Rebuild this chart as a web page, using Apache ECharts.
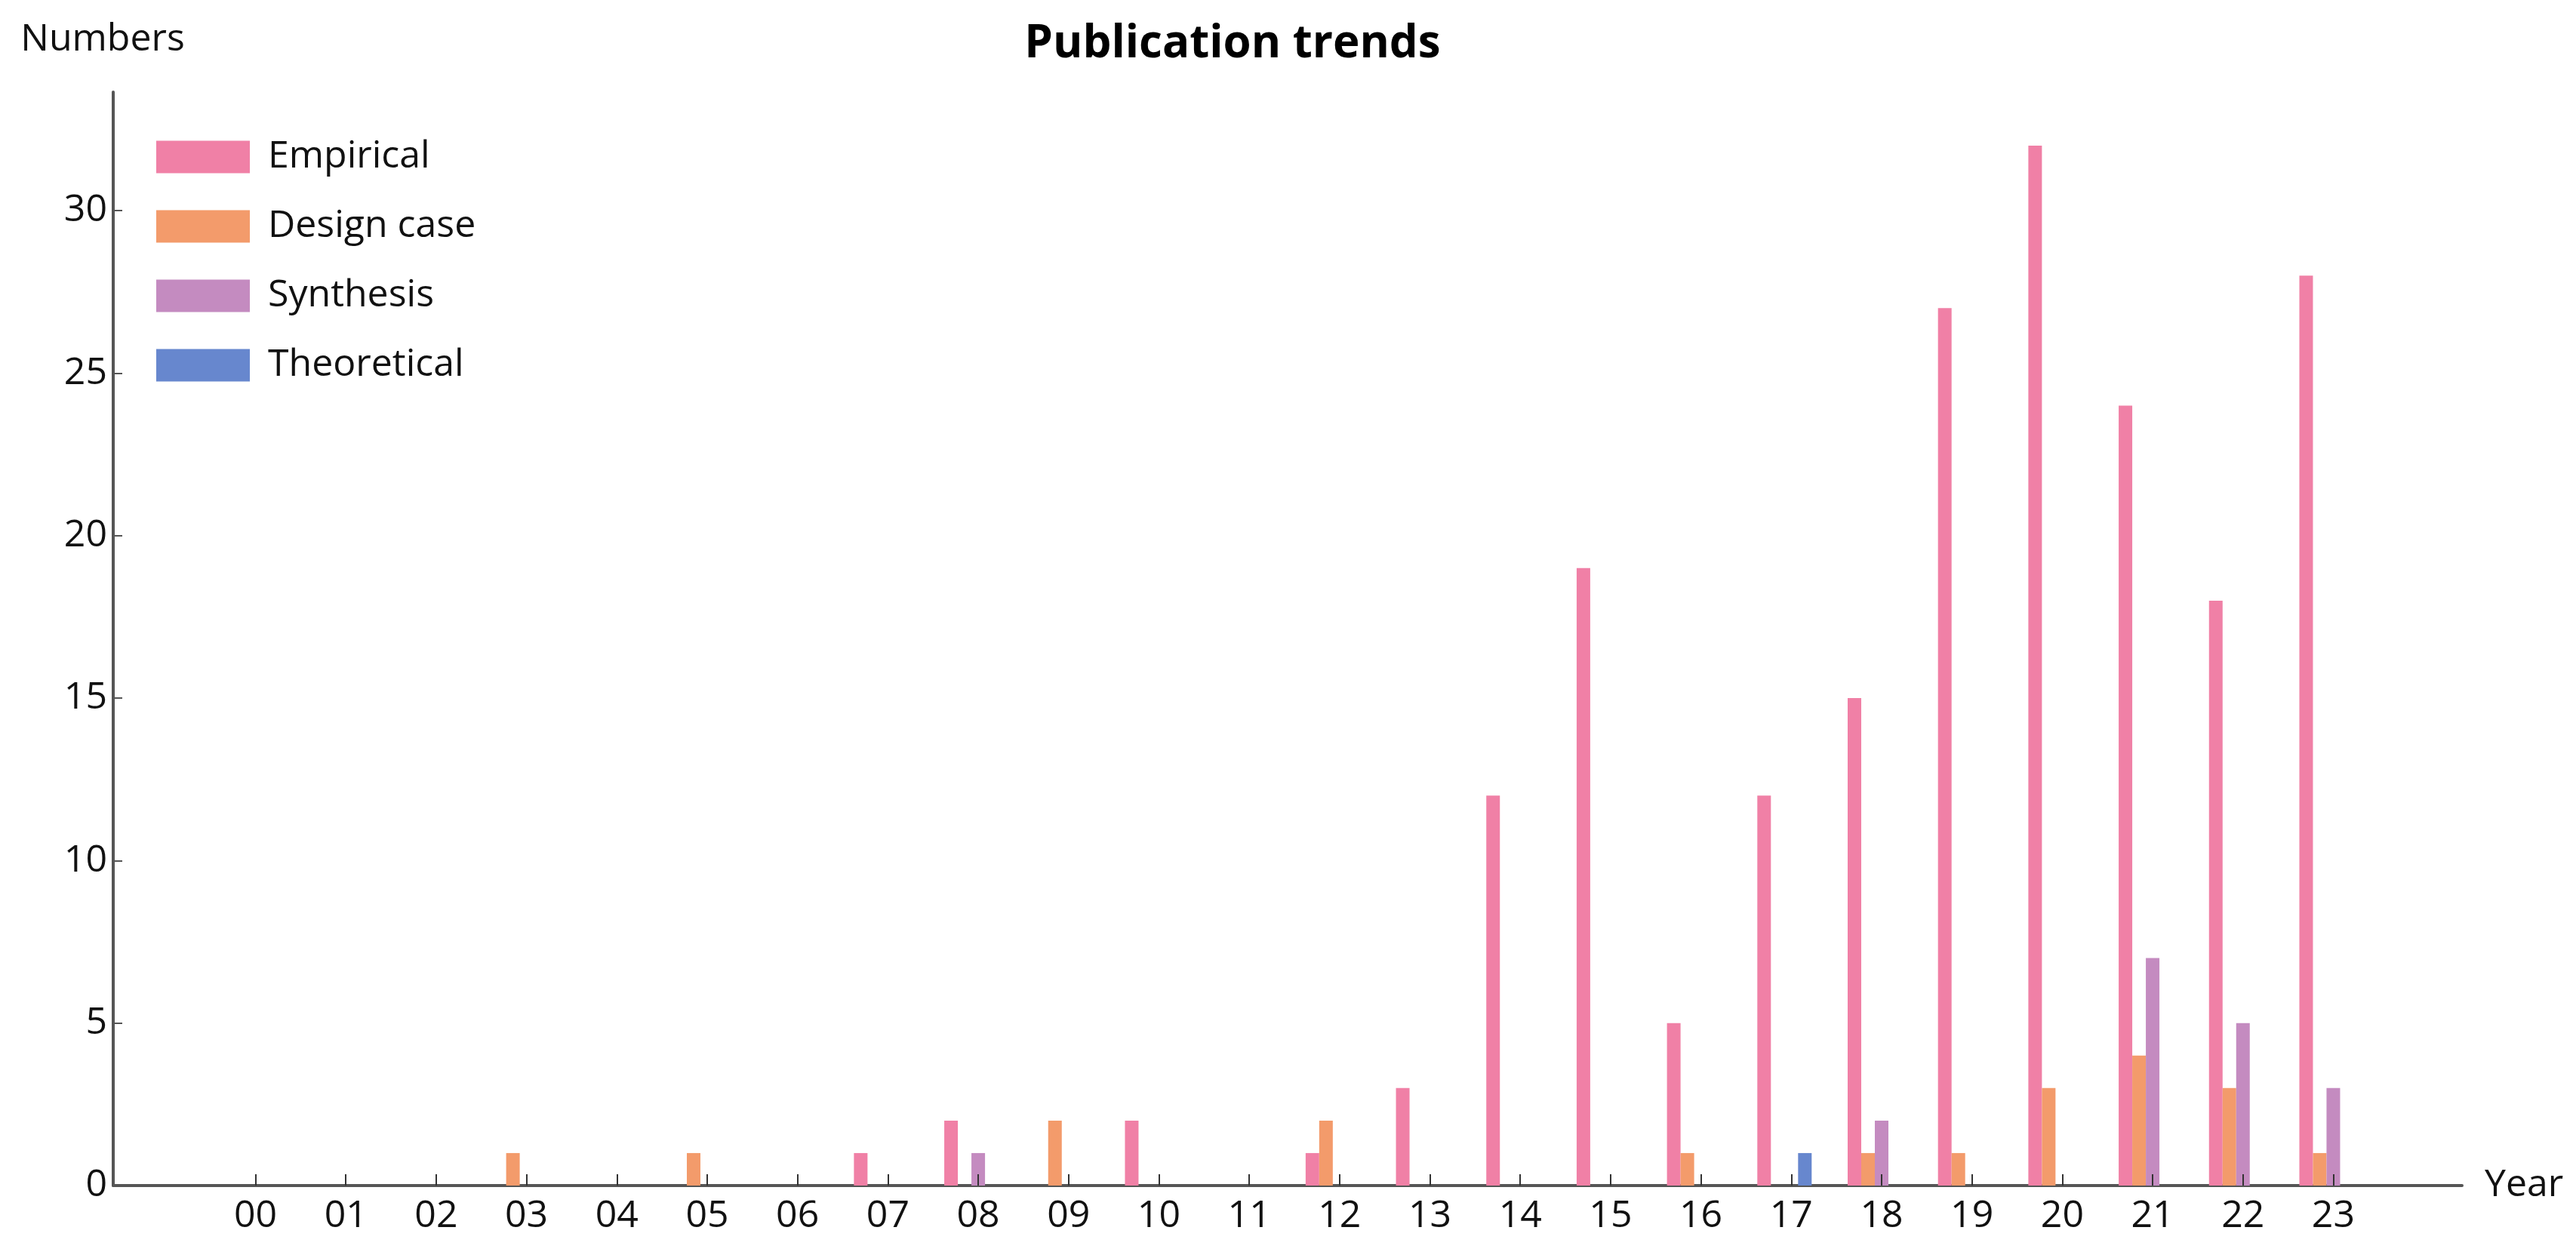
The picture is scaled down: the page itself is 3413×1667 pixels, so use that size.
<!DOCTYPE html>
<html>
<head>
<meta charset="utf-8">
<script src="https://cdn.jsdelivr.net/npm/echarts@6/dist/echarts.min.js"></script>
<style>
html,body{margin:0;padding:0;background:#fff;}
#chart{width:3413px;height:1667px;}
</style>
</head>
<body>
<div id="chart"></div>
<script>
// Year categories (padded with an empty slot on each side, as in the reference axis range)
const years = ['', '00','01','02','03','04','05','06','07','08','09','10','11','12','13','14','15','16','17','18','19','20','21','22','23', ''];
const empirical   = [null, 0,0,0,0,0,0,0,1,2,0,2,0,1,3,12,19,5,12,15,27,32,24,18,28, null];
const designCase  = [null, 0,0,0,1,0,1,0,0,0,2,0,0,2,0,0,0,1,0,1,1,3,4,3,1, null];
const synthesis   = [null, 0,0,0,0,0,0,0,0,1,0,0,0,0,0,0,0,0,0,2,0,0,7,5,3, null];
const theoretical = [null, 0,0,0,0,0,0,0,0,0,0,0,0,0,0,0,0,0,1,0,0,0,0,0,0, null];
const yTicks = [0, 5, 10, 15, 20, 25, 30];
const seriesNames = ['Empirical', 'Design case', 'Synthesis', 'Theoretical'];
const colors = ['#F080A6', '#F39B6B', '#C48BC0', '#6787CE'];

const FONT = '"Open Sans", "Noto Sans", sans-serif';
const chart = echarts.init(document.getElementById('chart'), null, {renderer: 'canvas'});

function bar(name, data, color) {
  return {
    name: name, type: 'bar', data: data,
    xAxisIndex: 0, yAxisIndex: 0,
    barWidth: 18, barGap: '0%',
    itemStyle: {color: color},
    z: 2
  };
}

chart.setOption({
  animation: false,
  backgroundColor: '#fff',
  textStyle: {fontFamily: FONT},
  title: {
    text: 'Publication trends',
    left: 1628, top: 24, textAlign: 'center',
    textStyle: {fontFamily: FONT, fontSize: 60, fontWeight: 'bold', color: '#000'}
  },
  legend: {
    data: seriesNames,
    orient: 'vertical',
    left: 207, top: 183,
    padding: 0,
    icon: 'rect',
    itemWidth: 124, itemHeight: 43, itemGap: 42,
    textStyle: {fontFamily: FONT, fontSize: 50, color: '#111', lineHeight: 43, padding: [0, 0, 0, 19]}
  },
  grid: [
    {left: 150, right: 151, top: 122, bottom: 96},
    {left: 159, right: 142, top: 122, bottom: 96}
  ],
  xAxis: [
    {
      type: 'category', gridIndex: 0, data: years,
      axisLine: {show: true, lineStyle: {color: '#555', width: 4}},
      axisTick: {show: false},
      axisLabel: {show: false},
      splitLine: {show: false},
      name: 'Year', nameLocation: 'end', nameGap: 30,
      nameTextStyle: {fontFamily: FONT, fontSize: 50, color: '#111', verticalAlign: 'middle'}
    },
    {
      type: 'category', gridIndex: 1, data: years, z: 10,
      axisLine: {show: false},
      axisTick: {show: true, inside: true, length: 15, alignWithLabel: true,
        interval: function (i, v) { return v !== ''; },
        lineStyle: {color: '#333', width: 2}},
      axisLabel: {show: true, fontFamily: FONT, fontSize: 50, color: '#111', margin: 16,
        interval: function (i, v) { return v !== ''; }},
      splitLine: {show: false}
    }
  ],
  yAxis: [
    {
      type: 'value', gridIndex: 0, min: 0, max: 33.65, interval: 5,
      axisLine: {show: true, lineStyle: {color: '#555', width: 4}},
      axisTick: {show: true, inside: true, length: 12, customValues: yTicks,
        lineStyle: {color: '#555', width: 2}},
      axisLabel: {fontFamily: FONT, fontSize: 50, color: '#111', margin: 8,
        formatter: function (v) { return yTicks.indexOf(v) >= 0 ? String(v) : ''; }},
      splitLine: {show: false},
      name: 'Numbers', nameLocation: 'end', nameGap: 44,
      nameTextStyle: {fontFamily: FONT, fontSize: 50, color: '#111', lineHeight: 50, padding: [0, 28, 0, 0]}
    },
    {
      type: 'value', gridIndex: 1, min: 0, max: 33.65, show: false
    }
  ],
  series: [
    bar(seriesNames[0], empirical, colors[0]),
    bar(seriesNames[1], designCase, colors[1]),
    bar(seriesNames[2], synthesis, colors[2]),
    bar(seriesNames[3], theoretical, colors[3])
  ]
});
</script>
</body>
</html>
